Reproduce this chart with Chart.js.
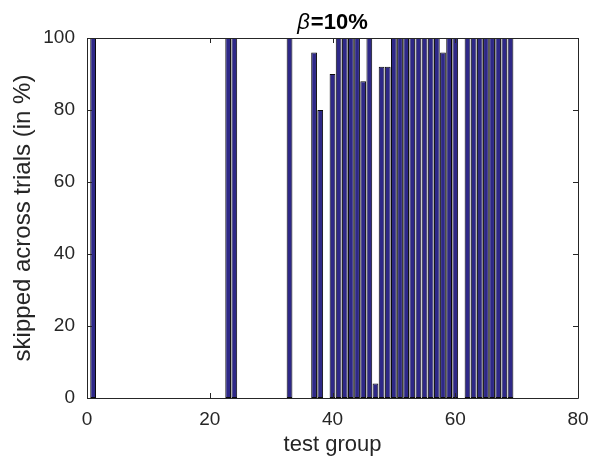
<!DOCTYPE html>
<html><head><meta charset="utf-8">
<script src="https://cdn.jsdelivr.net/npm/chart.js@4"></script>
<style>html,body{margin:0;padding:0;background:#fff;}</style>
</head><body>
<canvas id="c" width="589" height="460"></canvas>
<script>
const testGroups = [1,2,3,4,5,6,7,8,9,10,11,12,13,14,15,16,17,18,19,20,21,22,23,24,25,26,27,28,29,30,31,32,33,34,35,36,37,38,39,40,41,42,43,44,45,46,47,48,49,50,51,52,53,54,55,56,57,58,59,60,61,62,63,64,65,66,67,68,69];
const skippedPct = [100,0,0,0,0,0,0,0,0,0,0,0,0,0,0,0,0,0,0,0,0,0,100,100,0,0,0,0,0,0,0,0,100,0,0,0,96,80,0,90,100,100,100,100,88,100,4,92,92,100,100,100,100,100,100,100,100,96,100,100,0,100,100,100,100,100,100,100,100];
const xTicks = [0,20,40,60,80];
const yTicks = [0,20,40,60,80,100];
const titleSymbol = 'β';
const titleRest = '=10%';
const xLabel = 'test group';
const yLabel = 'skipped across trials (in %)';

const FONT = '"Liberation Sans", Arial, Helvetica, sans-serif';
const TXT = '#262626';

const boxPlugin = {
  id: 'box',
  afterDatasetsDraw(chart) {
    const ctx = chart.ctx, a = chart.chartArea;
    const xs = chart.scales.x, ys = chart.scales.y;
    ctx.save();
    ctx.strokeStyle = TXT;
    ctx.lineWidth = 1;
    ctx.beginPath();
    ctx.rect(Math.round(a.left) + 0.5, Math.round(a.top) + 0.5, Math.round(a.right - a.left), Math.round(a.bottom - a.top));
    ctx.stroke();
    const L = 5;
    ctx.beginPath();
    xTicks.forEach(v => {
      const px = Math.round(xs.getPixelForValue(v)) + 0.5;
      ctx.moveTo(px, a.bottom); ctx.lineTo(px, a.bottom - L);
      ctx.moveTo(px, a.top); ctx.lineTo(px, a.top + L);
    });
    yTicks.forEach(v => {
      const py = Math.round(ys.getPixelForValue(v)) + 0.5;
      ctx.moveTo(a.left, py); ctx.lineTo(a.left + L, py);
      ctx.moveTo(a.right, py); ctx.lineTo(a.right - L, py);
    });
    ctx.stroke();
    ctx.restore();
  },
  afterDraw(chart) {
    const ctx = chart.ctx, a = chart.chartArea;
    const cx = (a.left + a.right) / 2;
    ctx.save();
    ctx.fillStyle = '#000';
    ctx.textBaseline = 'alphabetic';
    const f1 = 'italic 22px ' + FONT;
    const f2 = 'bold 22px ' + FONT;
    ctx.font = f1; const w1 = ctx.measureText(titleSymbol).width;
    ctx.font = f2; const w2 = ctx.measureText(titleRest).width;
    const x0 = cx - (w1 + w2 + 1) / 2;
    const by = 29;
    ctx.font = f1; ctx.fillText(titleSymbol, x0, by);
    ctx.font = f2; ctx.fillText(titleRest, x0 + w1 + 1, by);
    ctx.restore();
  }
};

new Chart(document.getElementById('c'), {
  type: 'bar',
  data: {
    datasets: [{
      data: testGroups.map((g, i) => ({x: g, y: skippedPct[i]})),
      backgroundColor: '#2e2887',
      borderColor: '#0a0a0a',
      borderWidth: 1,
      borderSkipped: false,
      categoryPercentage: 1,
      barPercentage: 0.94
    }]
  },
  options: {
    responsive: false,
    animation: false,
    events: [],
    layout: {padding: {top: 38, right: 11, left: 0, bottom: 0}},
    plugins: {legend: {display: false}, tooltip: {enabled: false}, title: {display: false}},
    scales: {
      x: {
        type: 'linear', min: 0, max: 80, offset: false,
        afterFit(s) { s.height = 62; s.paddingRight = 0; s.paddingLeft = 0; },
        afterBuildTicks(s) { s.ticks = xTicks.map(v => ({value: v})); },
        grid: {display: false, offset: false, drawTicks: false},
        border: {display: false},
        ticks: {color: TXT, font: {family: FONT, size: 19}, padding: 10, maxRotation: 0, autoSkip: false},
        title: {display: true, text: xLabel, color: TXT, font: {family: FONT, size: 22, lineHeight: 1.2}, padding: {top: 0, bottom: 2}}
      },
      y: {
        min: 0, max: 100,
        afterFit(s) { s.width = 87; s.paddingTop = 0; s.paddingBottom = 0; },
        afterBuildTicks(s) { s.ticks = yTicks.map(v => ({value: v})); },
        grid: {display: false, drawTicks: false},
        border: {display: false},
        ticks: {color: TXT, font: {family: FONT, size: 19}, padding: 12, autoSkip: false},
        title: {display: true, text: yLabel, color: TXT, font: {family: FONT, size: 24, lineHeight: 1.2}, padding: {top: 9, bottom: 0}}
      }
    }
  },
  plugins: [boxPlugin]
});
</script>
</body></html>
